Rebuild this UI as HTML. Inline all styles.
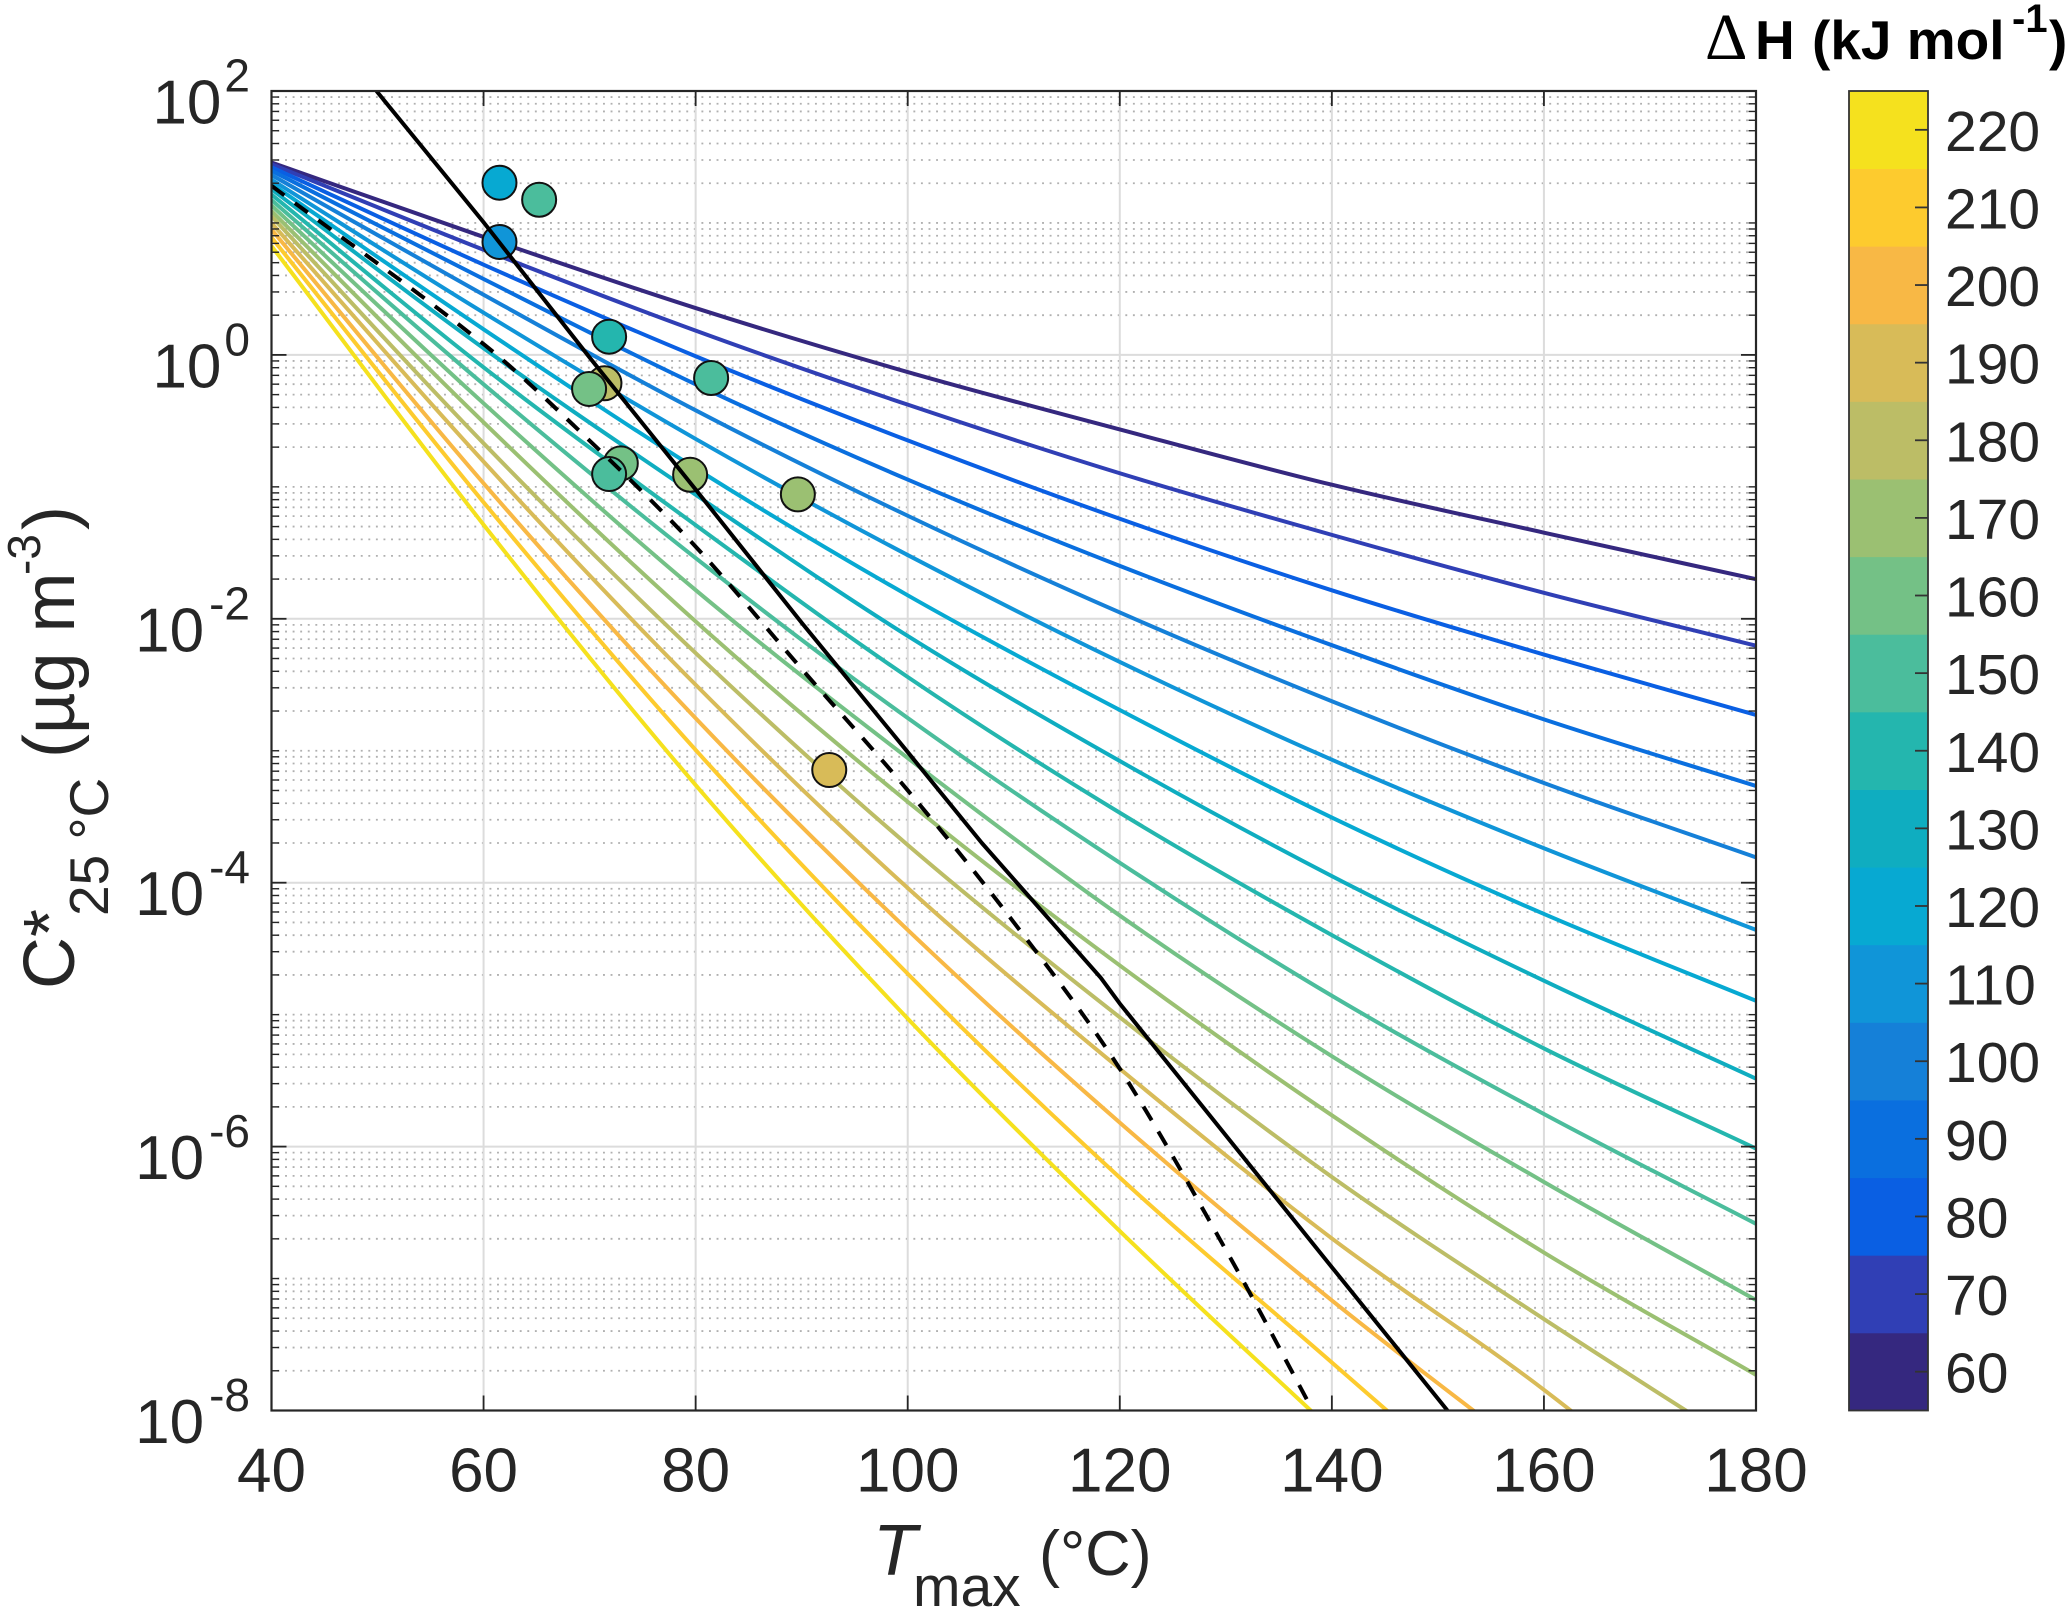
<!DOCTYPE html>
<html lang="en">
<head>
<meta charset="utf-8">
<title>C* versus Tmax chart</title>
<style>
  html, body { margin: 0; padding: 0; background: #fff; width: 2067px; height: 1610px; overflow: hidden; }
  svg { display: block; font-family: "Liberation Sans", sans-serif; overflow: hidden; }
  text { fill: #262626; }
</style>
</head>
<body>
<svg id="chart" xmlns="http://www.w3.org/2000/svg" width="2067" height="1610" viewBox="0 0 2067 1610">
  <defs>
    <clipPath id="plot-clip"><rect x="271.5" y="91" width="1484.5" height="1319.5"></rect></clipPath>
  </defs>
  <rect width="2067" height="1610" fill="#fff"></rect>
  <g id="grid"></g>
  <g id="lines" clip-path="url(#plot-clip)"></g>
  <g id="points"></g>
  <g id="black-lines" clip-path="url(#plot-clip)"></g>
  <g id="axes"></g>
  <g id="colorbar"></g>

  <g>
    <text x="873" y="1575" font-size="72" font-style="italic">T</text>
    <text x="913" y="1606" font-size="57">max</text>
    <text x="1039" y="1575" font-size="63">(°C)</text>
  </g>
  <g>
    <text transform="translate(74,989) rotate(-90)" font-size="72">C*</text>
    <text transform="translate(108,916) rotate(-90)" font-size="55">25 °C</text>
    <text transform="translate(74,758) rotate(-90)" font-size="72">(µg m</text>
    <text transform="translate(40,575) rotate(-90)" font-size="46">-3</text>
    <text transform="translate(74,530) rotate(-90)" font-size="72">)</text>
  </g>
  <g>
    <text x="1705" y="59" font-size="66" style="font-family:'Liberation Serif',serif;fill:#000">Δ</text>
    <text x="1755" y="59" font-size="55" font-weight="bold" style="fill:#000">H</text>
    <text x="1812" y="59" font-size="55" font-weight="bold" style="fill:#000">(kJ mol</text>
    <text x="2012" y="32" font-size="40" font-weight="bold" style="fill:#000">-1</text>
    <text x="2049" y="59" font-size="55" font-weight="bold" style="fill:#000">)</text>
  </g>
</svg>

<script>
// Chart data (log10 of C* at each temperature)
const temperatures = [40, 60, 80, 100, 120, 140, 160, 180];
const enthalpies = [60, 70, 80, 90, 100, 110, 120, 130, 140, 150, 160, 170, 180, 190, 200, 210, 220];
const logC60 = [1.458, 0.894, 0.355, -0.13, -0.565, -0.984, -1.347, -1.70];
const logC70 = [1.445, 0.797, 0.184, -0.377, -0.897, -1.364, -1.803, -2.204];
const logC80 = [1.423, 0.684, -0.01, -0.648, -1.242, -1.784, -2.271, -2.729];
const logC90 = [1.396, 0.575, -0.223, -0.945, -1.599, -2.2, -2.762, -3.267];
const logC100 = [1.363, 0.456, -0.42, -1.219, -1.952, -2.625, -3.244, -3.808];
const logC110 = [1.328, 0.32, -0.637, -1.517, -2.327, -3.068, -3.739, -4.358];
const logC120 = [1.296, 0.194, -0.86, -1.822, -2.691, -3.506, -4.237, -4.895];
const logC130 = [1.255, 0.05, -1.06, -2.13, -3.078, -3.95, -4.743, -5.485];
const logC140 = [1.215, -0.094, -1.29, -2.441, -3.47, -4.397, -5.256, -6.015];
const logC150 = [1.174, -0.223, -1.54, -2.752, -3.849, -4.857, -5.753, -6.585];
const logC160 = [1.133, -0.367, -1.782, -3.055, -4.249, -5.315, -6.268, -7.163];
const logC170 = [1.09, -0.511, -2.02, -3.387, -4.627, -5.763, -6.803, -7.73];
const logC180 = [1.05, -0.67, -2.26, -3.714, -5.02, -6.23, -7.307, -8.34];
const logC190 = [1.0, -0.809, -2.5, -4.04, -5.41, -6.696, -7.843, -9.15];
const logC200 = [0.95, -0.973, -2.754, -4.358, -5.818, -7.166, -8.41, -9.6];
const logC210 = [0.89, -1.117, -2.994, -4.69, -6.235, -7.636, -9.04, -10.2];
const logC220 = [0.825, -1.287, -3.26, -5.03, -6.64, -8.15, -9.65, -10.8];
const seriesValues = [logC60, logC70, logC80, logC90, logC100, logC110, logC120, logC130, logC140, logC150, logC160, logC170, logC180, logC190, logC200, logC210, logC220];

const solidTmax = [49.9, 60, 70, 80, 90, 100, 107, 118.2, 120, 140, 150.9];
const solidLogC = [2, 1.005, -0.02, -1.02, -2.03, -3.01, -3.7, -4.72, -4.916, -6.914, -8];
const dashedTmax = [40, 60, 70, 80, 90, 100, 110, 120, 130.5, 138.2];
const dashedLogC = [1.282, 0.082, -0.65, -1.453, -2.38, -3.3, -4.3, -5.41, -6.854, -8];

const pointTmax = [61.5, 65.24, 61.5, 71.84, 81.46, 71.4, 69.95, 72.94, 71.84, 79.48, 89.64, 92.6];
const pointLogC = [1.305, 1.176, 0.856, 0.138, -0.175, -0.215, -0.258, -0.822, -0.903, -0.908, -1.057, -3.146];
const pointEnthalpy = [120, 150, 110, 140, 150, 180, 160, 160, 150, 170, 170, 190];

const xTickValues = [40, 60, 80, 100, 120, 140, 160, 180];
const yTickExponents = [2, 0, -2, -4, -6, -8];
const minorMultipliers = [2, 3, 4, 5, 6, 7, 8, 9];
const colorbarTicks = [60, 70, 80, 90, 100, 110, 120, 130, 140, 150, 160, 170, 180, 190, 200, 210, 220];
const palette = ['#35287f', '#303fb5', '#0a5fe3', '#0a6fdf', '#1580d8', '#1095d8', '#07a9d2', '#0fadc0', '#24b6ae', '#4bbd9c', '#74c186', '#9bc072', '#bcbd66', '#d8bb58', '#f8b845', '#fdcb2e', '#f5e11e'];

const NS = 'http://www.w3.org/2000/svg';
const plotLeft = 271.5, plotRight = 1756, plotTop = 91, plotBottom = 1410.5;
const xMin = 40, xMax = 180, yMin = -8, yMax = 2;
const barLeft = 1849, barRight = 1928, barTop = 91, barBottom = 1410.5;
const barMin = 55, barMax = 225;

function xScale(t) { return plotLeft + (t - xMin) / (xMax - xMin) * (plotRight - plotLeft); }
function yScale(v) { return plotBottom - (v - yMin) / (yMax - yMin) * (plotBottom - plotTop); }
function barScale(v) { return barBottom - (v - barMin) / (barMax - barMin) * (barBottom - barTop); }
function colorFor(dh) {
  const i = Math.max(0, Math.min(palette.length - 1, Math.floor((dh - barMin) / 10)));
  return palette[i];
}
function make(tag, parent, attrs, text) {
  const el = document.createElementNS(NS, tag);
  for (const k in attrs) el.setAttribute(k, attrs[k]);
  if (text !== undefined) el.textContent = text;
  parent.appendChild(el);
  return el;
}
function pathFrom(xs, ys) {
  return xs.map(function (t, i) {
    return (i ? 'L' : 'M') + xScale(t).toFixed(2) + ' ' + yScale(ys[i]).toFixed(2);
  }).join(' ');
}
// Smooth curve through the data values (Catmull-Rom rendered as cubic beziers)
function smoothPathFrom(xs, ys) {
  const px = xs.map(xScale), py = ys.map(yScale);
  const n = px.length;
  let d = 'M' + px[0].toFixed(2) + ' ' + py[0].toFixed(2);
  for (let i = 0; i < n - 1; i++) {
    const a = Math.max(0, i - 1), b = Math.min(n - 1, i + 2);
    const scale1 = (px[i + 1] - px[i]) / (px[i + 1] - px[a]) / 3;
    const scale2 = (px[i + 1] - px[i]) / (px[b] - px[i]) / 3;
    const c1x = px[i] + (px[i + 1] - px[a]) * scale1;
    const c1y = py[i] + (py[i + 1] - py[a]) * scale1;
    const c2x = px[i + 1] - (px[b] - px[i]) * scale2;
    const c2y = py[i + 1] - (py[b] - py[i]) * scale2;
    d += ' C' + c1x.toFixed(2) + ' ' + c1y.toFixed(2) + ' ' + c2x.toFixed(2) + ' ' + c2y.toFixed(2) + ' ' + px[i + 1].toFixed(2) + ' ' + py[i + 1].toFixed(2);
  }
  return d;
}
// Number of points to draw: stop at the first value below the axis floor
function drawnCount(ys) {
  for (let i = 0; i < ys.length; i++) {
    if (ys[i] < yMin) return i + 1;
  }
  return ys.length;
}

const gridG = document.getElementById('grid');
const linesG = document.getElementById('lines');
const pointsG = document.getElementById('points');
const blackG = document.getElementById('black-lines');
const axesG = document.getElementById('axes');
const barG = document.getElementById('colorbar');

// Minor dotted grid + minor ticks
for (let e = yMin; e < yMax; e++) {
  const decade = [];
  minorMultipliers.forEach(function (m) { decade.push(e + Math.log10(m)); });
  if ((e - yMin) % 2 === 1) decade.push(e);
  decade.forEach(function (v) {
    const y = yScale(v);
    const dot = make('line', gridG, { x1: plotLeft + 6, x2: plotRight - 4, y1: y, y2: y, stroke: '#b0b0b0', 'stroke-width': 1.8, 'stroke-dasharray': '1.9 5.67' });
    
    
    const tl = make('line', axesG, { x1: plotLeft, x2: plotLeft + 7.5, y1: y, y2: y, stroke: '#262626', 'stroke-width': 1.4 });
    
    
    const tr = make('line', axesG, { x1: plotRight, x2: plotRight - 7.5, y1: y, y2: y, stroke: '#262626', 'stroke-width': 1.4 });
    
    
  });
}

// Major grid, ticks, tick labels
xTickValues.forEach(function (t) {
  const x = xScale(t);
  if (t !== xMin && t !== xMax) {
    const g = make('line', gridG, { x1: x, x2: x, y1: plotTop, y2: plotBottom, stroke: '#dcdcdc', 'stroke-width': 2 });
    
    
    const a = make('line', axesG, { x1: x, x2: x, y1: plotBottom, y2: plotBottom - 15, stroke: '#262626', 'stroke-width': 1.8 });
    
    
    const b = make('line', axesG, { x1: x, x2: x, y1: plotTop, y2: plotTop + 15, stroke: '#262626', 'stroke-width': 1.8 });
    
    
  }
  const lab = make('text', axesG, { x: x, y: 1491.5, 'font-size': 62, 'text-anchor': 'middle' }, String(t));
  
  
});

yTickExponents.forEach(function (e) {
  const y = yScale(e);
  if (e !== yMin && e !== yMax) {
    const g = make('line', gridG, { x1: plotLeft, x2: plotRight, y1: y, y2: y, stroke: '#dcdcdc', 'stroke-width': 2 });
    
    
    const a = make('line', axesG, { x1: plotLeft, x2: plotLeft + 15, y1: y, y2: y, stroke: '#262626', 'stroke-width': 1.8 });
    
    
    const b = make('line', axesG, { x1: plotRight, x2: plotRight - 15, y1: y, y2: y, stroke: '#262626', 'stroke-width': 1.8 });
    
    
  }
  const lab = make('text', axesG, { x: 250, y: y + 32.5, 'font-size': 62, 'text-anchor': 'end' });
  
  
  const base = make('tspan', lab, {}, '10');
  
  
  const sup = make('tspan', lab, { dy: -32, dx: e < 0 ? 5 : 3, 'font-size': 46 }, String(e));
  
  
});

// Enthalpy lines
enthalpies.forEach(function (dh, i) {
  const count = drawnCount(seriesValues[i]);
  const p = make('path', linesG, { d: smoothPathFrom(temperatures.slice(0, count), seriesValues[i].slice(0, count)), fill: 'none', stroke: colorFor(dh), 'stroke-width': 4, 'stroke-linejoin': 'round' });
  
  
});

// Scatter points
pointTmax.forEach(function (t, i) {
  const c = make('circle', pointsG, { cx: xScale(t), cy: yScale(pointLogC[i]), r: 17, fill: colorFor(pointEnthalpy[i]), stroke: '#111', 'stroke-width': 2 });
  
  
});

// Black reference lines
const solid = make('path', blackG, { d: pathFrom(solidTmax, solidLogC), fill: 'none', stroke: '#000', 'stroke-width': 4, 'stroke-linejoin': 'round' });


const dashed = make('path', blackG, { d: smoothPathFrom(dashedTmax, dashedLogC), fill: 'none', stroke: '#000', 'stroke-width': 4, 'stroke-dasharray': '16 13' });



// Axes box
const box = make('rect', axesG, { x: plotLeft, y: plotTop, width: plotRight - plotLeft, height: plotBottom - plotTop, fill: 'none', stroke: '#262626', 'stroke-width': 2.2 });



// Colorbar
colorbarTicks.forEach(function (v) {
  const top = barScale(v + 5), bottom = barScale(v - 5);
  const band = make('rect', barG, { x: barLeft, y: top, width: barRight - barLeft, height: bottom - top + 0.4, fill: colorFor(v) });
  
  
});
const frame = make('rect', barG, { x: barLeft, y: barTop, width: barRight - barLeft, height: barBottom - barTop, fill: 'none', stroke: '#333', 'stroke-width': 1.8 });


colorbarTicks.forEach(function (v) {
  const y = barScale(v);
  const t = make('line', barG, { x1: barRight, x2: barRight - 13, y1: y, y2: y, stroke: '#333', 'stroke-width': 1.8 });
  
  
  const lab = make('text', barG, { x: 1945, y: y + 21, 'font-size': 57 }, String(v));
  
  
});
</script>
</body>
</html>
